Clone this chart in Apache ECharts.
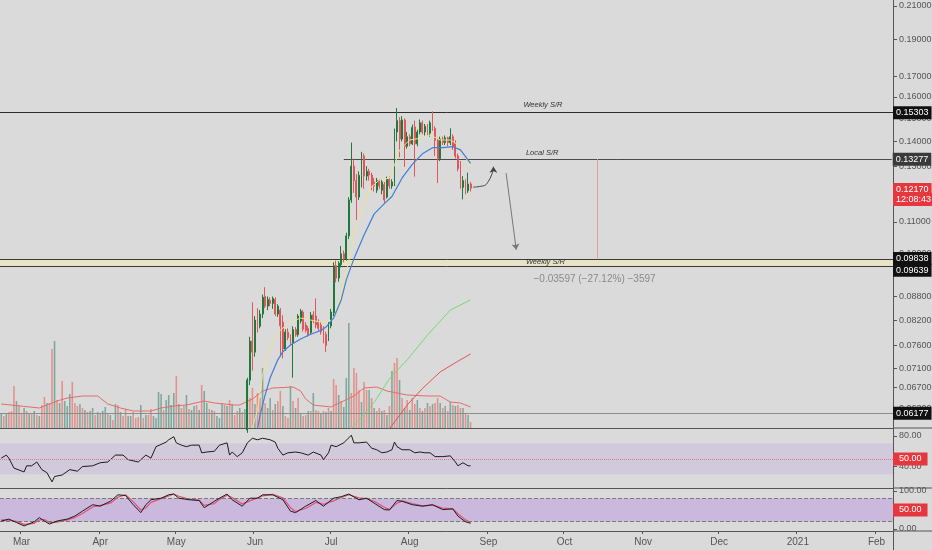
<!DOCTYPE html>
<html><head><meta charset="utf-8">
<script src="https://cdn.jsdelivr.net/npm/echarts@6/dist/echarts.min.js"></script>
<style>html,body{margin:0;padding:0;background:#dadada}#c{width:932px;height:550px}</style>
</head><body><div id="c"></div>
<script>
// ---------- data ----------
const startDate = '2020-02-22';
const dayCount = 352;
const monthAbbr = ['Jan','Feb','Mar','Apr','May','Jun','Jul','Aug','Sep','Oct','Nov','Dec'];
const priceTicks = [0.21,0.19,0.17,0.16,0.15,0.14,0.13,0.12,0.11,0.10,0.088,0.082,0.076,0.071,0.067,0.063];
const rsiTicks = [80, 40];
const stochTicks = [100, 0];

// daily candles from 2020-05-29: [open, high, low, close]
const ohlcStart = '2020-05-29';
const ohlc = [
[0.0590,0.0690,0.0585,0.0685],[0.0685,0.0780,0.0675,0.0770],[0.0770,0.0865,0.0705,0.0745],[0.0745,0.0830,0.0735,0.0820],
[0.0820,0.0850,0.0790,0.0805],[0.0805,0.0845,0.0800,0.0835],[0.0835,0.0885,0.0825,0.0878],[0.0880,0.0905,0.0850,0.0855],
[0.0855,0.0880,0.0845,0.0872],[0.0870,0.0878,0.0855,0.0862],[0.0862,0.0880,0.0848,0.0875],[0.0872,0.0878,0.0830,0.0835],
[0.0835,0.0860,0.0828,0.0855],[0.0845,0.0850,0.0735,0.0806],[0.0815,0.0832,0.0731,0.0752],[0.0752,0.0798,0.0748,0.0791],
[0.0791,0.0800,0.0772,0.0778],[0.0780,0.0786,0.0760,0.0766],[0.0766,0.0805,0.0690,0.0797],[0.0797,0.0803,0.0780,0.0785],
[0.0785,0.0835,0.0780,0.0830],[0.0818,0.0848,0.0812,0.0842],[0.0840,0.0845,0.0792,0.0798],[0.0808,0.0815,0.0790,0.0795],
[0.0800,0.0806,0.0780,0.0785],[0.0790,0.0840,0.0785,0.0832],[0.0833,0.0842,0.0812,0.0818],[0.0830,0.0875,0.0800,0.0808],
[0.0815,0.0822,0.0795,0.0800],[0.0808,0.0815,0.0785,0.0792],[0.0798,0.0805,0.0765,0.0773],[0.0786,0.0792,0.0745,0.0760],
[0.0778,0.0815,0.0770,0.0808],[0.0806,0.0848,0.0800,0.0840],[0.0838,0.0975,0.0830,0.0965],[0.0965,0.0980,0.0918,0.0930],
[0.0930,0.0978,0.0920,0.0972],[0.0968,0.1024,0.0960,0.1000],[0.1000,0.1010,0.0975,0.0985],[0.0985,0.1065,0.0980,0.1055],
[0.1055,0.1185,0.1045,0.1175],[0.1175,0.1395,0.1165,0.1300],[0.1300,0.1330,0.1200,0.1245],[0.1245,0.1270,0.1107,0.1185],
[0.1185,0.1280,0.1175,0.1265],[0.1265,0.1357,0.1220,0.1340],[0.1340,0.1350,0.1215,0.1262],[0.1262,0.1300,0.1245,0.1280],
[0.1280,0.1290,0.1245,0.1266],[0.1266,0.1275,0.1210,0.1230],[0.1240,0.1255,0.1205,0.1225],[0.1210,0.1255,0.1200,0.1245],
[0.1245,0.1250,0.1215,0.1225],[0.1210,0.1250,0.1195,0.1240],[0.1230,0.1240,0.1165,0.1175],[0.1185,0.1260,0.1180,0.1250],
[0.1250,0.1262,0.1215,0.1225],[0.1225,0.1250,0.1215,0.1240],[0.1235,0.1455,0.1225,0.1440],[0.1440,0.1547,0.1400,0.1490],
[0.1490,0.1505,0.1335,0.1410],[0.1410,0.1510,0.1400,0.1493],[0.1493,0.1500,0.1297,0.1380],[0.1380,0.1440,0.1370,0.1420],
[0.1420,0.1430,0.1380,0.1390],[0.1390,0.1472,0.1385,0.1460],[0.1462,0.1490,0.1260,0.1390],[0.1390,0.1450,0.1380,0.1440],
[0.1440,0.1495,0.1430,0.1480],[0.1480,0.1490,0.1430,0.1440],[0.1440,0.1475,0.1425,0.1465],[0.1465,0.1475,0.1425,0.1435],
[0.1435,0.1490,0.1420,0.1480],[0.1480,0.1532,0.1445,0.1455],[0.1455,0.1465,0.1340,0.1405],[0.1405,0.1415,0.1236,0.1330],
[0.1330,0.1420,0.1320,0.1410],[0.1410,0.1420,0.1385,0.1395],[0.1395,0.1425,0.1385,0.1415],[0.1415,0.1420,0.1380,0.1395],
[0.1395,0.1456,0.1385,0.1420],[0.1420,0.1430,0.1365,0.1380],[0.1390,0.1405,0.1330,0.1340],[0.1340,0.1350,0.1280,0.1290],
[0.1310,0.1320,0.1215,0.1225],[0.1220,0.1262,0.1177,0.1245],[0.1245,0.1250,0.1195,0.1208],[0.1208,0.1275,0.1200,0.1232],
[0.1232,0.1240,0.1205,0.1217]
];

// daily volume from startDate, and 1 = up bar / 0 = down bar
const volume = [14,12,14,16,17,42,27,23,15,20,17,15,15,17,13,12,23,31,25,25,79,87,28,25,47,27,22,34,46,25,
22,24,20,18,16,17,20,13,16,14,17,21,15,13,8,24,23,16,12,19,12,12,16,10,11,23,10,13,13,19,
12,10,36,34,18,28,33,23,35,52,24,20,22,33,19,18,22,23,18,43,37,25,19,18,17,12,10,25,23,22,
28,24,13,17,20,16,19,49,30,40,24,35,30,60,25,20,30,18,24,27,37,22,12,10,42,27,20,30,15,12,
13,17,17,35,18,17,15,17,16,20,17,49,43,33,27,21,50,105,35,60,55,38,26,46,38,38,30,20,17,20,
17,18,13,22,57,65,70,48,30,20,28,18,30,24,28,20,17,20,25,22,24,25,30,25,20,22,17,26,23,22,
23,20,20,15,13,6];
const volumeUp = [1,0,1,0,0,0,1,0,0,1,0,1,0,1,0,1,0,0,1,0,0,1,0,1,0,1,1,1,0,0,
0,1,0,1,0,1,1,0,1,0,1,1,0,1,0,1,0,1,0,0,1,1,0,0,0,1,0,1,0,0,
1,1,1,1,0,1,1,1,1,0,1,0,0,1,0,1,1,0,1,0,1,1,0,1,0,1,1,1,0,1,
0,1,0,0,1,0,1,1,0,0,1,0,0,1,0,1,1,0,1,0,0,1,0,0,1,0,1,0,1,0,
0,1,0,1,0,0,1,0,1,0,1,0,0,1,0,1,1,1,0,0,0,0,1,0,0,1,0,1,0,0,
1,0,1,0,1,0,0,1,0,1,0,1,0,0,1,0,1,0,1,0,1,0,0,1,0,1,0,1,0,1,
0,0,1,0,1,0];
const volMaDays = [0,15,22,26,32,38,42,47,52,59,63,68,73,80,84,92,94,99,103,107,115,118,120,123,130,134,139,143,148,152,156,160,168,173,177,181,185];
const volMaVals = [24,20,27,30,32,32,24,20,17,17,20,22,23,27,25,23,23,29,37,40,41,37,29,23,21,26,32,40,41,37,35,33,32,32,26,25,21];

// moving averages on price (day index from startDate, price)
const blueDays = [101,102,104,106,109,111,114,118,122,126,128,131,134,136,139,143,147,151,154,158,162,166,170,174,178,181,185];
const blueVals = [0.0592,0.0617,0.0655,0.0690,0.0728,0.0746,0.0761,0.0775,0.0786,0.0795,0.0803,0.0825,0.0871,0.0925,0.0985,0.1058,0.1127,0.1162,0.1187,0.1255,0.1307,0.1349,0.1374,0.1374,0.1378,0.1365,0.1311];
const yellowDays = [99,101,103,105,107,110,114,118,122,126,128,131,134,136,138,140,143,145,149,153,155,157,161,165,169,173,177,179,182,185];
const yellowVals = [0.0594,0.0626,0.0696,0.0739,0.0768,0.0796,0.0815,0.0825,0.0820,0.0815,0.0815,0.0822,0.0887,0.0950,0.1012,0.1090,0.1160,0.1214,0.1247,0.1254,0.1305,0.1365,0.1406,0.1413,0.1427,0.1406,0.1406,0.1394,0.1357,0.1294];
const greenDays = [138,147,153,160,168,177,185];
const greenVals = [0.0592,0.0641,0.0688,0.0728,0.0784,0.0845,0.0871];
const redDays = [153,160,166,173,180,185];
const redVals = [0.0592,0.0636,0.0668,0.0702,0.0725,0.0741];

// RSI
const rsiDays = [0,2,3,5,9,10,12,14,16,18,20,21,24,27,30,32,36,39,42,45,48,50,54,57,59,61,65,66,68,69,71,73,75,78,79,81,84,86,89,90,91,93,95,97,99,101,103,106,108,109,111,113,116,118,121,123,126,127,129,130,132,135,138,139,141,144,146,148,150,152,154,155,156,158,161,163,165,167,169,171,174,177,179,180,182,184,185];
const rsiVals = [51,55,51,38,33,41,41,46,36,32,20,27,29,36,34,40,41,45,46,55,55,49,46,55,51,66,72,75,79,71,68,66,68,68,58,59,60,68,71,55,59,53,58,71,77,75,77,75,72,64,55,58,59,58,55,59,55,49,58,68,66,71,81,71,71,72,64,62,58,59,62,72,66,62,62,58,59,58,58,53,53,54,46,41,45,41,41];

// Stochastic RSI
const stochDays = [0,3,6,9,13,15,17,19,22,26,29,32,36,39,43,46,49,52,55,57,59,63,66,68,70,74,78,80,84,86,89,91,95,98,101,103,107,111,114,116,120,124,127,131,134,137,141,144,147,151,153,156,158,162,166,170,174,178,180,183,185];
const stochK = [21,26,17,8,19,30,21,13,21,26,34,47,64,60,73,90,88,64,43,64,77,81,90,92,81,77,75,56,73,81,92,77,60,81,81,90,90,77,47,43,60,75,60,81,85,92,77,81,68,51,50,75,73,64,60,64,51,53,34,19,15];
const stochD = [24,23,20,12,15,24,25,17,18,24,30,41,58,62,68,84,90,72,50,56,70,80,87,92,86,79,76,62,67,78,89,83,66,74,82,87,91,82,56,46,54,70,65,74,83,90,82,80,73,57,51,68,74,67,61,63,55,53,40,24,17];

// drawn curved arrow path (day index, price)
const arrowDays = [186, 189, 192, 194];
const arrowVals = [0.1221, 0.1224, 0.1242, 0.1298];

// levels
const weeklyTop = 0.15303, localSR = 0.13277, lastPrice = 0.12170, bandTop = 0.09838, bandBottom = 0.09639, lowLine = 0.06177;

// ---------- build ----------
const categories = [];
{ const d0 = Date.parse(startDate + 'T00:00:00Z');
  for (let k = 0; k < dayCount; k++) categories.push(new Date(d0 + k * 86400000).toISOString().slice(0, 10)); }
const L = Math.log;
const c0 = categories.indexOf(ohlcStart);
const FONT = 'Liberation Sans';
const isMonthStart = (i, v) => v.slice(8, 10) === '01';
const monthLabel = v => { const m = +v.slice(5, 7); return m === 1 ? v.slice(0, 4) : monthAbbr[m - 1]; };
const pairs = (days, vals, f) => days.map((d, k) => [d, f ? f(vals[k]) : vals[k]]);

function badge(text, bg, extra) {
  return Object.assign({show: true, position: 'end', distance: 0, formatter: text, backgroundColor: bg,
    color: '#fff', padding: [2, 3, 1, 3], fontSize: 9, fontFamily: FONT, lineHeight: 10}, extra || {});
}
const hidden = {color: 'rgba(0,0,0,0)', width: 1};
function textPt(day, val, text, pos, style) {
  return {coord: [day, val], symbol: 'circle', symbolSize: 1, itemStyle: {color: 'rgba(0,0,0,0)'},
    label: Object.assign({show: true, formatter: text, position: pos, fontFamily: FONT, fontSize: 7.5, color: '#333'}, style || {})};
}

const lnMax = L(0.21) + 6 / 334, lnMin = L(0.21) - 422 / 334;

const xAxes = [0, 1, 2, 3].map(g => ({
  type: 'category', gridIndex: g, data: categories, boundaryGap: true, show: g < 3,
  axisLine: {show: g < 3, onZero: false, lineStyle: {color: '#555', width: 1}},
  axisTick: {show: g === 2, interval: isMonthStart, length: 3, lineStyle: {color: '#555'}},
  axisLabel: {show: g === 2, interval: isMonthStart, formatter: monthLabel, color: '#555', fontSize: 10, fontFamily: FONT, margin: 6},
  splitLine: {show: false}
}));

const axisCommon = (ticks, fmt) => ({
  position: 'right', axisLine: {show: true, lineStyle: {color: '#555'}},
  axisTick: {show: true, customValues: ticks, length: 4, lineStyle: {color: '#555'}},
  axisLabel: {customValues: ticks, formatter: fmt, color: '#555', fontSize: 9, fontFamily: FONT, margin: 6},
  splitLine: {show: false}
});

const gridBase = {left: 0, right: 39, outerBoundsMode: 'none', containLabel: false};
const option = {
  backgroundColor: '#dadada',
  animation: false,
  grid: [
    Object.assign({top: 0, height: 428}, gridBase),
    Object.assign({top: 428, height: 60}, gridBase),
    Object.assign({top: 488, height: 43}, gridBase),
    Object.assign({top: 0, height: 428}, gridBase)
  ],
  graphic: [
    {type: 'line', silent: true, shape: {x1: 893, y1: 428, x2: 932, y2: 428}, style: {stroke: '#555', lineWidth: 1}},
    {type: 'line', silent: true, shape: {x1: 893, y1: 488, x2: 932, y2: 488}, style: {stroke: '#555', lineWidth: 1}},
    {type: 'line', silent: true, shape: {x1: 893, y1: 531, x2: 932, y2: 531}, style: {stroke: '#555', lineWidth: 1}},
    {type: 'line', silent: true, shape: {x1: 893.5, y1: 531, x2: 893.5, y2: 550}, style: {stroke: '#555', lineWidth: 1}}
  ],
  xAxis: xAxes,
  yAxis: [
    Object.assign({type: 'value', gridIndex: 0, min: lnMin, max: lnMax}, axisCommon(priceTicks.map(L), v => Math.exp(v).toFixed(5))),
    Object.assign({type: 'value', gridIndex: 1, min: 12, max: 90.4}, axisCommon(rsiTicks, v => v.toFixed(2))),
    Object.assign({type: 'value', gridIndex: 2, min: -5.3, max: 107.9}, axisCommon(stochTicks, v => v.toFixed(2))),
    {type: 'value', gridIndex: 3, min: 0, max: 428, show: false, splitLine: {show: false}}
  ],
  series: [
    // volume
    {type: 'bar', xAxisIndex: 3, yAxisIndex: 3, z: 1, barWidth: '62%',
     data: volume.map((v, i) => [i, v]),
     itemStyle: {color: p => volumeUp[p.dataIndex] ? '#7ea89e' : '#e2928c'}},
    {type: 'line', xAxisIndex: 3, yAxisIndex: 3, z: 2, symbol: 'none', data: pairs(volMaDays, volMaVals),
     lineStyle: {color: '#e46c6c', width: 1}},
    // annotations
    {type: 'line', xAxisIndex: 0, yAxisIndex: 0, z: 1, data: [],
     markArea: {silent: true, itemStyle: {color: '#e6e3c6'}, data: [[{yAxis: L(bandTop)}, {yAxis: L(bandBottom)}]]},
     markLine: {silent: true, symbol: ['none', 'none'], animation: false, data: [
       {yAxis: L(weeklyTop), lineStyle: {color: '#2b2b2b', width: 1, type: 'solid'}, label: badge('0.15303', '#111')},
       [{coord: [135, L(localSR)], lineStyle: {color: '#4a4a4a', width: 1, type: 'solid'}, label: badge('0.13277', '#3a3a3a', {distance: 1})}, {coord: [dayCount - 1, L(localSR)]}],
       {yAxis: L(lastPrice), lineStyle: hidden, label: badge('0.12170', '#e5373d')},
       {yAxis: L(0.1175), lineStyle: hidden, label: badge('12:08:43', '#e5373d')},
       {yAxis: L(bandTop), lineStyle: {color: '#3a3a3a', width: 1, type: 'solid'}, label: badge('0.09838', '#111', {offset: [0, -1]})},
       {yAxis: L(bandBottom), lineStyle: {color: '#3a3a3a', width: 1, type: 'solid'}, label: badge('0.09639', '#111', {offset: [0, 4]})},
       {yAxis: L(lowLine), lineStyle: {color: '#8c8c8c', width: 1, type: 'solid'}, label: badge('0.06177', '#111')},
       [{coord: [235, L(localSR)], lineStyle: {color: '#e0a0a0', width: 1, type: 'solid'}, label: {show: false}}, {coord: [235, L(bandTop)]}],
       [{coord: [199, L(0.1273)], symbol: 'none', lineStyle: {color: '#777', width: 1, type: 'solid'}, label: {show: false}},
        {coord: [203, L(0.1012)], symbol: 'arrow', symbolSize: 6}]
     ]},
     markPoint: {silent: true, animation: false, data: [
       textPt(206, L(weeklyTop), 'Weekly S/R', [0, -10], {fontStyle: 'italic'}),
       textPt(207, L(localSR), 'Local S/R', [0, -10], {fontStyle: 'italic'}),
       textPt(207, L(bandTop), 'Weekly S/R', [0, -1], {fontStyle: 'italic'}),
       textPt(210, L(bandBottom), '\u22120.03597 (\u221227.12%) \u22123597', [0, 9], {fontSize: 10, color: '#8a8a8a', fontStyle: 'normal'})
     ]}},
    // curved arrow drawn on the chart
    {type: 'line', xAxisIndex: 0, yAxisIndex: 0, z: 6, symbol: 'none', smooth: 0.6,
     data: pairs(arrowDays, arrowVals, L), lineStyle: {color: '#444', width: 1},
     markPoint: {silent: true, animation: false, symbol: 'arrow', symbolSize: [6, 6], itemStyle: {color: '#444'}, label: {show: false},
       data: [{coord: [arrowDays[arrowDays.length - 1], L(arrowVals[arrowVals.length - 1])]}]}},
    // price
    {type: 'candlestick', xAxisIndex: 0, yAxisIndex: 0, z: 5, barWidth: 1.4,
     data: ohlc.map((r, k) => [c0 + k, L(r[0]), L(r[3]), L(r[2]), L(r[1])]),
     encode: {x: 0, y: [1, 2, 3, 4]},
     itemStyle: {color: '#1d7a3b', color0: '#e2555a', borderColor: '#1d7a3b', borderColor0: '#e2555a', borderWidth: 1}},
    {type: 'line', xAxisIndex: 0, yAxisIndex: 0, z: 6, symbol: 'none', data: pairs(yellowDays, yellowVals, L), lineStyle: {color: '#ece48e', width: 1}},
    {type: 'line', xAxisIndex: 0, yAxisIndex: 0, z: 6, symbol: 'none', data: pairs(blueDays, blueVals, L), lineStyle: {color: '#3f7fd6', width: 1.2}},
    {type: 'line', xAxisIndex: 0, yAxisIndex: 0, z: 6, symbol: 'none', data: pairs(greenDays, greenVals, L), lineStyle: {color: '#72dc72', width: 1}},
    {type: 'line', xAxisIndex: 0, yAxisIndex: 0, z: 6, symbol: 'none', data: pairs(redDays, redVals, L), lineStyle: {color: '#e05454', width: 1}},
    // RSI
    {type: 'line', xAxisIndex: 1, yAxisIndex: 1, z: 4, symbol: 'none', data: pairs(rsiDays, rsiVals),
     lineStyle: {color: '#1c1c1c', width: 1},
     markArea: {silent: true, itemStyle: {color: 'rgba(160,110,230,0.16)'}, data: [[{yAxis: 70}, {yAxis: 30}]]},
     markLine: {silent: true, symbol: ['none', 'none'], data: [
       {yAxis: 50, lineStyle: {color: '#e07a7a', width: 1, type: 'dotted'}, label: badge('50.00', '#e5373d', {padding: [2, 6, 1, 6]})}]}},
    // Stoch RSI
    {type: 'line', xAxisIndex: 2, yAxisIndex: 2, z: 4, symbol: 'none', data: pairs(stochDays, stochD),
     lineStyle: {color: '#e4507a', width: 1.2},
     markArea: {silent: true, itemStyle: {color: 'rgba(160,90,230,0.26)'}, data: [[{yAxis: 80}, {yAxis: 20}]]},
     markLine: {silent: true, symbol: ['none', 'none'], data: [
       {yAxis: 80, lineStyle: {color: '#7a7a7a', width: 1, type: 'dashed'}, label: {show: false}},
       {yAxis: 20, lineStyle: {color: '#7a7a7a', width: 1, type: 'dashed'}, label: {show: false}},
       {yAxis: 50, lineStyle: hidden, label: badge('50.00', '#e5373d', {padding: [2, 6, 1, 6]})}]}},
    {type: 'line', xAxisIndex: 2, yAxisIndex: 2, z: 5, symbol: 'none', data: pairs(stochDays, stochK),
     lineStyle: {color: '#1c1c1c', width: 1}}
  ]
};
const chart = echarts.init(document.getElementById('c'), null, {renderer: 'canvas'});
chart.setOption(option);
</script>
</body></html>
